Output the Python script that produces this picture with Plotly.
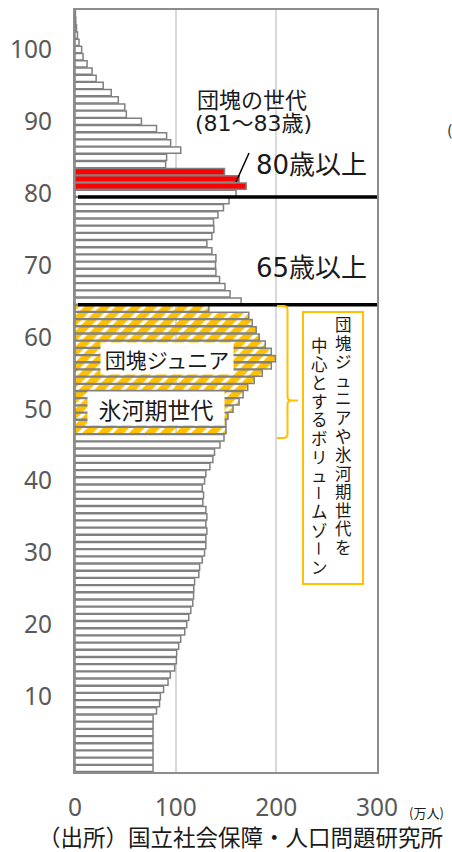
import plotly.graph_objects as go

# ---- data ----
ages = list(range(0, 106))
population = [
    77.5, 77.5, 77.5, 77.5, 77.5, 77.5, 77.5, 77.6, 81, 84,          # 0-9
    84.8, 88, 92.4, 94.7, 99, 100.7, 101, 103, 105, 109,             # 10-19
    111, 113, 115, 117, 117.8, 118, 118.8, 123, 123.8, 126.4,        # 20-29
    128.7, 130, 130, 131, 130, 131, 130, 127, 127.7, 126.4,          # 30-39
    128.7, 130, 134, 137, 138.6, 144, 148, 150, 150, 152,            # 40-49
    157, 163, 167, 171.6, 178, 186, 195, 199, 195, 189,              # 50-59
    183, 180, 176, 172.6, 133, 165, 154, 149, 143.6, 140,            # 60-69
    139.6, 140, 136, 131, 136, 138, 137.6, 142, 147.5, 153,          # 70-79
    160, 170, 163, 148.5, 90, 91, 105, 95, 91, 81,                   # 80-89
    66, 51, 49.5, 43, 36, 28, 21, 17, 12, 8,                         # 90-99
    6.6, 4, 2.5, 1.5, 0.8, 0.4,                                      # 100-105
]
dankai_ages = [81, 82, 83]
volume_zone_ages = list(range(47, 65))
boundary_ages = [79.5, 64.5]
x_ticks = [0, 100, 200, 300]
y_ticks = [10, 20, 30, 40, 50, 60, 70, 80, 90, 100]

# ---- layout helpers (pixel -> paper) ----
W, H = 452, 852
L, R, T, B = 75, 377, 10, 772


def px(x):
    return (x - L) / (R - L)


def py(y):
    return (B - y) / (B - T)


colors = []
shapes_pat = []
for a in ages:
    if a in dankai_ages:
        colors.append("#FF0000")
        shapes_pat.append("")
    elif a in volume_zone_ages:
        colors.append("#FFC000")
        shapes_pat.append("/")
    else:
        colors.append("#FFFFFF")
        shapes_pat.append("")

fig = go.Figure()
fig.add_trace(go.Bar(
    x=population, y=ages, orientation="h",
    marker=dict(
        color=colors,
        line=dict(color="#808080", width=1.5),
        pattern=dict(shape=shapes_pat, fillmode="replace", bgcolor="#FFFFFF",
                     fgcolor=colors, fgopacity=1, size=11, solidity=0.68),
    ),
    hoverinfo="skip",
))

CJK = "Noto Sans CJK JP"
MIX = "DejaVu Sans, Noto Sans CJK JP"
TICKF = "Noto Sans"

shapes = []
for b in boundary_ages:
    shapes.append(dict(type="line", xref="x", yref="y", x0=3, x1=300, y0=b, y1=b,
                       line=dict(color="#000000", width=3.5)))
# diagonal pointer
shapes.append(dict(type="line", xref="paper", yref="paper",
                   x0=px(236), y0=py(182), x1=px(249), y1=py(153),
                   line=dict(color="#000000", width=1.5)))
# orange box
shapes.append(dict(type="rect", xref="paper", yref="paper",
                   x0=px(303), x1=px(363), y0=py(312), y1=py(584),
                   line=dict(color="#FFC000", width=2)))
# bracket
bx0, bx1, bx2 = px(277), px(287.5), px(298)
by_top, by_mid, by_bot = py(306), py(400.5), py(438)
r = 4
path = (f"M {bx0},{by_top} L {px(287.5 - r)},{by_top} Q {bx1},{by_top} {bx1},{py(306 + r)} "
        f"L {bx1},{py(400.5 - r)} Q {bx1},{by_mid} {px(287.5 + r)},{by_mid} L {bx2},{by_mid} "
        f"M {px(287.5 + r)},{by_mid} Q {bx1},{by_mid} {bx1},{py(400.5 + r)} "
        f"L {bx1},{py(438 - r)} Q {bx1},{by_bot} {px(287.5 - r)},{by_bot} L {bx0},{by_bot}")
shapes.append(dict(type="path", xref="paper", yref="paper", path=path,
                   line=dict(color="#FFC000", width=2)))

annotations = []


def ann(x, y, text, size, family=MIX, color="#1a1a1a", **kw):
    d = dict(xref="paper", yref="paper", x=px(x), y=py(y), text=text, showarrow=False,
             font=dict(family=family, size=size, color=color), xanchor="center", yanchor="middle")
    d.update(kw)
    annotations.append(d)


ann(252, 98, "団塊の世代", 22, family=CJK)
ann(253, 123, "(81～83歳)", 22)
ann(311, 165, "80歳以上", 26)
ann(311, 268, "65歳以上", 26)
ann(167, 358, "団塊ジュニア", 21, family=CJK, bgcolor="#FFFFFF", width=130, height=29)
ann(156, 409, "氷河期世代", 23, family=CJK, bgcolor="#FFFFFF", width=134, height=31)

# vertical text: one character per line, line pitch = 1.3 * base size
BASE = 14.3
GLYPH = 16.5


def vcol(x, y_first, pitch, chars):
    """Place a vertical run of characters; long-vowel marks are rotated."""
    seg = []
    seg_start = 0
    for i, ch in enumerate(chars + "\0"):
        if ch in ("ー", "\0"):
            if seg:
                n = len(seg)
                yc = y_first + (seg_start + (n - 1) / 2) * pitch
                txt = "<br>".join(f'<span style="font-size:{GLYPH}px">{c}</span>' for c in seg)
                ann(x, yc, txt, BASE, family=CJK)
            if ch == "ー":
                ann(x, y_first + i * pitch, ch, 15, family=CJK, textangle=90)
            seg = []
            seg_start = i + 1
        else:
            seg.append(ch)


vcol(343, 324, 18.6, "団塊ジュニアや氷河期世代を")
vcol(319.5, 345, 18.5, "中心とするボリュームゾーン")

ann(426, 812, "(万人)", 13, family=CJK)
ann(240, 836, "（出所）国立社会保障・人口問題研究所", 22.5, family=CJK)
ann(450, 131, "(", 15, color="#404040")

fig.update_layout(
    width=W, height=H,
    margin=dict(l=L, r=W - R, t=T, b=H - B, autoexpand=False),
    paper_bgcolor="white", plot_bgcolor="white",
    showlegend=False, bargap=0.12,
    shapes=shapes, annotations=annotations,
    font=dict(family=MIX),
)
fig.update_xaxes(
    range=[0, 300], tickvals=x_ticks, showgrid=True, gridcolor="#D9D9D9", gridwidth=1.5,
    zeroline=False, showline=True, mirror=True, linecolor="#8C8C8C", linewidth=2,
    tickfont=dict(family=TICKF, size=24.5, color="#595959"), ticklabelstandoff=13,
    automargin=False,
)
fig.update_yaxes(
    range=[-0.5, 105.5], tickvals=y_ticks, showgrid=False,
    zeroline=False, showline=True, mirror=True, linecolor="#8C8C8C", linewidth=2,
    tickfont=dict(family=TICKF, size=24.5, color="#595959"), ticklabelstandoff=16,
    automargin=False,
)

fig.write_html("out.html")
